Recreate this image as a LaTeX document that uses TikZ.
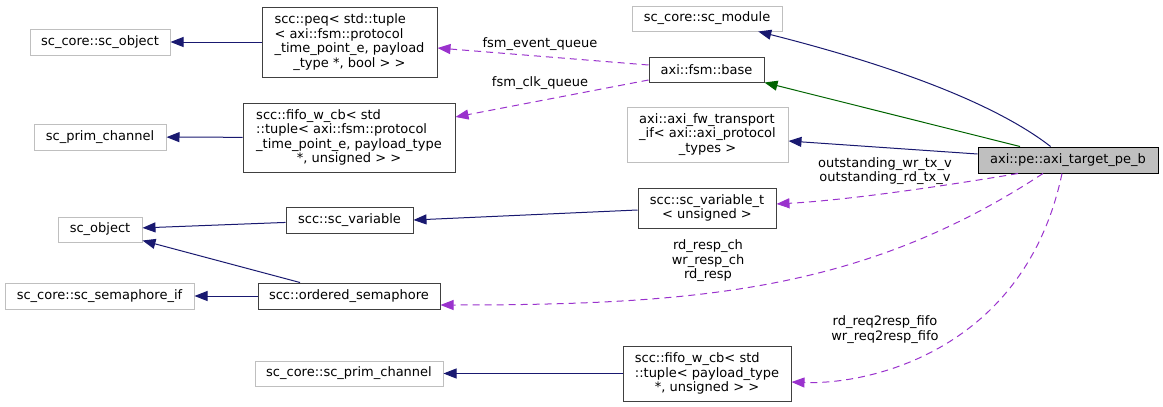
\documentclass[tikz,border=0pt]{standalone}
\usepackage{fontspec}
\setmainfont{DejaVu Sans}
\usetikzlibrary{arrows.meta,calc}

\definecolor{edgeblue}{HTML}{191970}
\definecolor{edgegreen}{HTML}{006400}
\definecolor{edgeorchid}{HTML}{9A32CD}
\definecolor{extgray}{HTML}{BFBFBF}
\definecolor{clsborder}{HTML}{404040}

\newcommand{\lastln}[1]{\hspace*{\fill}#1\hspace*{\fill}}

\begin{document}
\begin{tikzpicture}[
    x=1pt, y=-1pt,
    every node/.style={font=\fontsize{13}{14.5}\selectfont, inner sep=0pt},
    cls/.style={draw=clsborder, line width=1pt, align=left},
    ext/.style={draw=extgray, line width=1pt, align=left},
    focus/.style={draw=black, line width=1pt, fill=extgray},
    inh/.style={-{Triangle[length=13pt,width=10pt]}, draw=edgeblue, line width=1pt},
    pub/.style={-{Triangle[length=13pt,width=10pt]}, draw=edgegreen, line width=1pt},
    mem/.style={-{Triangle[length=13pt,width=10pt]}, draw=edgeorchid, line width=1pt, dash pattern=on 7pt off 5pt},
    lbl/.style={align=center}
]
\useasboundingbox (0,0) rectangle (1163,407);

% left column
\node[ext, minimum width=140, minimum height=26] (scobj) at (100,42) {sc\_core::sc\_object};
\node[ext, minimum width=132, minimum height=26] (prim) at (100,137) {sc\_prim\_channel};
\node[ext, minimum width=84, minimum height=25] (obj) at (100,229.5) {sc\_object};
\node[ext, minimum width=189, minimum height=26] (semif) at (99.5,296) {sc\_core::sc\_semaphore\_if};

% second column
\node[cls, minimum width=175, minimum height=70] (peq) at (349.5,42)
  {scc::peq< std::tuple\\< axi::fsm::protocol\\\_time\_point\_e, payload\\\lastln{\_type *, bool > >}};
\node[cls, minimum width=212, minimum height=69] (fifo) at (349,137.5)
  {scc::fifo\_w\_cb< std\\::tuple< axi::fsm::protocol\\\_time\_point\_e, payload\_type\\\lastln{*, unsigned > >}};
\node[cls, minimum width=127, minimum height=26] (var) at (349.5,220) {scc::sc\_variable};
\node[cls, minimum width=182, minimum height=26] (sem) at (349,296) {scc::ordered\_semaphore};
\node[ext, minimum width=188, minimum height=25] (prim2) at (349,373.5) {sc\_core::sc\_prim\_channel};

% third column
\node[ext, minimum width=150, minimum height=25] (scmod) at (707,18.5) {sc\_core::sc\_module};
\node[cls, minimum width=115, minimum height=25] (base) at (706.5,69.5) {axi::fsm::base};
\node[ext, minimum width=161, minimum height=55] (fw) at (707.5,134.5)
  {axi::axi\_fw\_transport\\\_if< axi::axi\_protocol\\\lastln{\_types >}};
\node[cls, minimum width=138, minimum height=40] (vart) at (707,208)
  {scc::sc\_variable\_t\\\lastln{< unsigned >}};
\node[cls, minimum width=168, minimum height=55] (fifo2) at (707,373.5)
  {scc::fifo\_w\_cb< std\\::tuple< payload\_type\\\lastln{*, unsigned > >}};

% main class
\node[focus, minimum width=180, minimum height=26] (target) at (1068,160) {axi::pe::axi\_target\_pe\_b};

% base classes
\draw[inh] (peq) -- (scobj);
\draw[inh] (fifo) -- (prim);
\draw[inh] (var) -- (obj);
\draw[inh] ($(sem.north)+(-49,0)$) -- ($(obj.south east)+(0,-2)$);
\draw[inh] (sem) -- (semif);
\draw[inh] ($(vart.west)+(0,2)$) -- (var.east);
\draw[inh] (fifo2) -- (prim2);
\draw[inh] (target) .. controls (1010,115) and (930,75) .. (scmod);
\draw[pub] ($(target.north)+(-48,0)$) -- (base.south east);
\draw[inh] ($(target.west)+(0,-6)$) -- ($(fw.east)+(0,6.5)$);

% members
\draw[mem] ($(base.west)+(0,-4.5)$) -- ($(peq.east)+(0,6)$)
  node[lbl] at (540,44) {fsm\_event\_queue};
\draw[mem] ($(base.west)+(0,10.5)$) -- ($(fifo.east)+(0,-20.5)$)
  node[lbl] at (540,83) {fsm\_clk\_queue};
\draw[mem] ($(target.south)+(-50,0)$) .. controls (950,185) and (850,200) .. ($(vart.east)+(0,-4)$)
  node[lbl] at (885,171) {outstanding\_wr\_tx\_v\\outstanding\_rd\_tx\_v};
\draw[mem] ($(target.south)+(-25,0)$) .. controls (865,290) and (700,305) .. ($(sem.east)+(0,9)$)
  node[lbl] at (708,261) {rd\_resp\_ch\\wr\_resp\_ch\\rd\_resp};
\draw[mem] ($(target.south)+(-6,0)$) .. controls (1025,350) and (870,385) .. ($(fifo2.east)+(0,8.5)$)
  node[lbl] at (885,329.5) {rd\_req2resp\_fifo\\wr\_req2resp\_fifo};
\end{tikzpicture}
\end{document}
